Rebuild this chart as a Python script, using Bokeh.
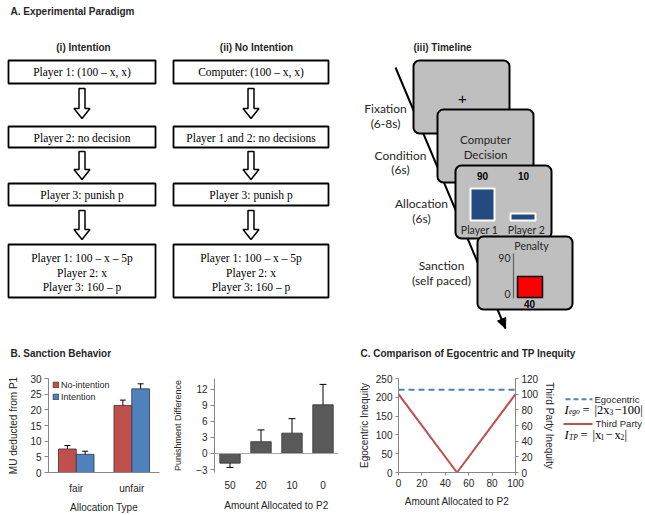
from bokeh.plotting import figure
from bokeh.models import Range1d, FactorRange, ColumnDataSource, Whisker, Span, LinearAxis, TeeHead
from bokeh.layouts import column, row
from bokeh.transform import dodge
from bokeh.core.properties import value
from bokeh.embed import file_html
from bokeh.resources import INLINE
import math

# ---------------- data ----------------
alloc_types = ["fair", "unfair"]
no_intention = [7.5, 21.4]
no_intention_lo = [6.4, 19.7]
no_intention_hi = [8.6, 23.1]
intention = [5.8, 26.7]
intention_lo = [4.8, 25.0]
intention_hi = [6.8, 28.3]

p2_amounts = ["50", "20", "10", "0"]
punish_diff = [-1.8, 2.2, 3.8, 9.1]
punish_lo = [-2.6, 0.0, 1.3, 5.2]
punish_hi = [-0.9, 4.4, 6.5, 12.9]

tp_x = [0, 50, 100]
third_party = [100, 0, 100]
ego_x = [0, 100]
egocentric = [220, 220]

SANS = "Liberation Sans"
SERIF = "Liberation Serif"
CAL = "Lato"
TXT = "#262626"

TOP_H = 370
ROW_H = 145
BT, BB = 8, 42   # common top / bottom borders of the chart row

# ---------------- panel A (diagram, page pixel coordinates) ----------------
pa = figure(width=645, height=TOP_H, x_range=Range1d(0, 645), y_range=Range1d(TOP_H, 0),
            output_backend="svg", toolbar_location=None, x_axis_type=None, y_axis_type=None,
            min_border=0)
pa.outline_line_color = None
pa.grid.visible = False

# headings
pa.text(x=[10, 10, 360], y=[11, 353, 353],
        text=["A. Experimental Paradigm", "B. Sanction Behavior", "C. Comparison of Egocentric and TP Inequity"],
        text_font=value(SANS), text_font_style="bold", text_font_size="10px",
        text_align="left", text_baseline="middle", text_color=TXT)
pa.text(x=[83, 256], y=[47, 47], text=["(i) Intention", "(ii) No Intention"],
        text_font=value(SANS), text_font_style="bold", text_font_size="10px",
        text_align="center", text_baseline="middle", text_color=TXT)
pa.text(x=[413], y=[47], text=["(iii) Timeline"],
        text_font=value(SANS), text_font_style="bold", text_font_size="10px",
        text_align="left", text_baseline="middle", text_color=TXT)

# flow boxes
col_left = [8, 173]
col_right = [155, 328]
col_center = [81.5, 250.5]
row_top = [60, 126, 183, 244]
row_bottom = [83, 147, 205, 297]
bl, br, bt, bb = [], [], [], []
for c in range(2):
    for r in range(4):
        bl.append(col_left[c]); br.append(col_right[c]); bt.append(row_top[r]); bb.append(row_bottom[r])
pa.quad(left=bl, right=br, top=bt, bottom=bb, fill_color="white", line_color="black", line_width=1.8)

box_texts = [
    ["Player 1: (100 – x, x)", "Player 2: no decision", "Player 3: punish p",
     "Player 1: 100 – x – 5p", "Player 2: x", "Player 3: 160 – p"],
    ["Computer: (100 – x, x)", "Player 1 and 2: no decisions", "Player 3: punish p",
     "Player 1: 100 – x – 5p", "Player 2: x", "Player 3: 160 – p"],
]
box_text_y = [71.5, 137, 194, 257, 272, 286]
tx, ty, tt = [], [], []
for c in range(2):
    for i, s in enumerate(box_texts[c]):
        tx.append(col_center[c]); ty.append(box_text_y[i]); tt.append(s)
pa.text(x=tx, y=ty, text=tt, text_font=value(SERIF), text_font_size="11.5px",
        text_align="center", text_baseline="middle", text_color="black")

# hollow arrows
arrow_spans = [(88, 118), (151, 179), (210, 239)]
axs, ays = [], []
for c in range(2):
    cx = col_center[c]
    for (y0, y1) in arrow_spans:
        yh = y1 - 10
        axs.append([cx - 3, cx + 3, cx + 3, cx + 8, cx, cx - 8, cx - 3])
        ays.append([y0, y0, yh, yh, y1, yh, yh])
pa.patches(xs=axs, ys=ays, fill_color="white", line_color="black", line_width=1.5)

# timeline line with arrow head
lx0, ly0, lx1, ly1 = 395, 67, 505, 328
pa.line([lx0, lx1], [ly0, ly1], line_color="black", line_width=2)
d = math.hypot(lx1 - lx0, ly1 - ly0)
ux, uy = (lx1 - lx0) / d, (ly1 - ly0) / d
bx, by = lx1 - 10 * ux, ly1 - 10 * uy
pa.patch([lx1, bx + 4.5 * uy, bx - 4.5 * uy], [ly1, by - 4.5 * ux, by + 4.5 * ux],
         fill_color="black", line_color="black")

# timeline labels
tl_text = ["Fixation", "(6-8s)", "Condition", "(6s)", "Allocation", "(6s)", "Sanction", "(self paced)"]
tl_x = [385, 385, 400, 400, 421, 421, 441, 441]
tl_y = [108, 123, 155, 169, 203, 218, 265, 280]
pa.text(x=tl_x, y=tl_y, text=tl_text, text_font=value(CAL), text_font_size="12px",
        text_align="center", text_baseline="middle", text_color=TXT)

screens = [(413, 509, 60, 133), (437, 533, 109, 182), (455, 551, 165, 238), (477, 572, 236, 309)]

def screen(i):
    l, r, t, b = screens[i]
    pa.quad(left=[l], right=[r], top=[t], bottom=[b], fill_color="#BFBFBF",
            line_color="black", line_width=2, border_radius=6)

screen(0)
pa.text(x=[462], y=[98], text=["+"], text_font=value(SANS), text_font_size="15px",
        text_align="center", text_baseline="middle", text_color="black")
screen(1)
pa.text(x=[485, 485], y=[139, 154], text=["Computer", "Decision"], text_font=value(CAL),
        text_font_size="11.5px", text_align="center", text_baseline="middle", text_color=TXT)
screen(2)
pa.text(x=[482, 523], y=[175, 175], text=["90", "10"], text_font=value(SANS), text_font_style="bold",
        text_font_size="10px", text_align="center", text_baseline="middle", text_color="black")
pa.quad(left=[470, 510], right=[494, 535], top=[188, 213], bottom=[220, 220],
        fill_color="#254A80", line_color="white", line_width=2)
pa.text(x=[479, 526], y=[229, 229], text=["Player 1", "Player 2"], text_font=value(CAL),
        text_font_size="10.5px", text_align="center", text_baseline="middle", text_color=TXT)
screen(3)
pa.text(x=[531], y=[245], text=["Penalty"], text_font=value(CAL), text_font_size="10.5px",
        text_align="center", text_baseline="middle", text_color=TXT)
pa.line([513, 513], [253, 298], line_color="#606060", line_width=1.2)
pa.text(x=[510, 510], y=[257, 293], text=["90", "0"], text_font=value(CAL), text_font_size="10.5px",
        text_align="right", text_baseline="middle", text_color=TXT)
pa.quad(left=[517], right=[542], top=[276], bottom=[297], fill_color="#FF0000",
        line_color="black", line_width=1.5)
pa.text(x=[529], y=[303.5], text=["40"], text_font=value(SANS), text_font_style="bold",
        text_font_size="10px", text_align="center", text_baseline="middle", text_color="black")


# ---------------- helpers ----------------
def style_axis(ax, size="10px", lab="10px"):
    ax.axis_line_color = "#868686"
    ax.major_tick_line_color = "#868686"
    ax.minor_tick_line_color = None
    ax.major_tick_in = 0
    ax.major_tick_out = 4
    ax.major_label_text_font = SANS
    ax.major_label_text_font_size = size
    ax.major_label_text_color = TXT
    ax.axis_label_text_font = SANS
    ax.axis_label_text_font_size = lab
    ax.axis_label_text_font_style = "normal"
    ax.axis_label_text_color = TXT


def clean(p):
    p.outline_line_color = None
    p.xgrid.grid_line_color = None
    p.ygrid.grid_line_color = None


# ---------------- panel B1 ----------------
src1 = ColumnDataSource(dict(cat=alloc_types, no=no_intention, no_lo=no_intention_lo, no_hi=no_intention_hi,
                             it=intention, it_lo=intention_lo, it_hi=intention_hi))
pb1 = figure(width=170, height=ROW_H, x_range=FactorRange(*alloc_types), y_range=Range1d(0, 30),
             output_backend="svg", toolbar_location=None,
             min_border_left=48, min_border_right=11, min_border_top=BT, min_border_bottom=BB)
clean(pb1)
pb1.vbar(x=dodge("cat", -0.16, range=pb1.x_range), top="no", width=0.32, source=src1,
         fill_color="#C0504D", line_color="#4a2a2a", line_width=0.8, legend_label="No-intention")
pb1.vbar(x=dodge("cat", 0.16, range=pb1.x_range), top="it", width=0.32, source=src1,
         fill_color="#4F81BD", line_color="#2a3a4a", line_width=0.8, legend_label="Intention")
for off, lo, hi in [(-0.16, "no_lo", "no_hi"), (0.16, "it_lo", "it_hi")]:
    w = Whisker(base=dodge("cat", off, range=pb1.x_range), lower=lo, upper=hi, source=src1,
                line_color="black", line_width=1,
                upper_head=TeeHead(size=6, line_color="black", line_width=1),
                lower_head=TeeHead(size=6, line_color="black", line_width=1))
    pb1.add_layout(w)
pb1.yaxis.ticker = [0, 5, 10, 15, 20, 25, 30]
pb1.yaxis.axis_label = "MU deducted from P1"
pb1.xaxis.axis_label = "Allocation Type"
style_axis(pb1.yaxis[0])
style_axis(pb1.xaxis[0])
pb1.xaxis.major_tick_line_color = None
pb1.xaxis.major_label_standoff = 6
pb1.xaxis.axis_label_standoff = 5
pb1.yaxis.major_label_standoff = 3
pb1.yaxis.axis_label_standoff = 8
lg = pb1.legend[0]
lg.location = (4, 70)
lg.margin = 0
lg.padding = 2
lg.spacing = 1
lg.glyph_width = 7
lg.glyph_height = 7
lg.label_height = 11
lg.label_standoff = 2
lg.label_text_font = SANS
lg.label_text_font_size = "9px"
lg.label_text_color = TXT
lg.background_fill_alpha = 0
lg.border_line_color = None

# ---------------- panel B2 ----------------
src2 = ColumnDataSource(dict(cat=p2_amounts, v=punish_diff, lo=punish_lo, hi=punish_hi))
pb2 = figure(width=175, height=ROW_H, x_range=FactorRange(*p2_amounts), y_range=Range1d(-3.55, 14),
             output_backend="svg", toolbar_location=None,
             min_border_left=41, min_border_right=7, min_border_top=BT, min_border_bottom=BB)
clean(pb2)
pb2.add_layout(Span(location=0, dimension="width", line_color="#A6A6A6", line_width=1))
pb2.vbar(x="cat", top="v", width=0.66, source=src2, fill_color="#595959", line_color="#333333",
         line_width=0.8)
pb2.add_layout(Whisker(base="cat", lower="lo", upper="hi", source=src2, line_color="black", line_width=1,
                       upper_head=TeeHead(size=7, line_color="black", line_width=1),
                       lower_head=TeeHead(size=7, line_color="black", line_width=1)))
pb2.yaxis.ticker = [-3, 0, 3, 6, 9, 12]
pb2.yaxis.axis_label = "Punishment Difference"
pb2.xaxis.axis_label = "Amount Allocated to P2"
style_axis(pb2.yaxis[0], lab="9px")
style_axis(pb2.xaxis[0])
pb2.xaxis.axis_line_color = None
pb2.xaxis.major_tick_line_color = None
pb2.xaxis.major_label_standoff = 4
pb2.xaxis.axis_label_standoff = 8
pb2.yaxis.major_label_standoff = 3
pb2.yaxis.axis_label_standoff = 10

# ---------------- panel C ----------------
pc = figure(width=215, height=ROW_H, x_range=Range1d(0, 100), y_range=Range1d(0, 250),
            output_backend="svg", toolbar_location=None,
            min_border_left=53, min_border_right=45, min_border_top=BT, min_border_bottom=BB)
clean(pc)
pc.extra_y_ranges = {"tp": Range1d(0, 120)}
pc.add_layout(LinearAxis(y_range_name="tp", axis_label="Third Party Inequity"), "right")
pc.line(ego_x, egocentric, line_color="#4F81BD", line_width=2, line_dash="6 4")
pc.line(tp_x, third_party, y_range_name="tp", line_color="#C0504D", line_width=2)
pc.xaxis.ticker = [0, 20, 40, 60, 80, 100]
pc.yaxis[0].ticker = [0, 50, 100, 150, 200, 250]
pc.yaxis[1].ticker = [0, 20, 40, 60, 80, 100, 120]
pc.yaxis[0].axis_label = "Egocentric Inequity"
pc.xaxis.axis_label = "Amount Allocated to P2"
for ax in pc.xaxis + pc.yaxis:
    style_axis(ax)
    ax.major_tick_out = 3
    ax.major_label_standoff = 3
    ax.axis_label_standoff = 3
pc.xaxis.major_label_standoff = 3
pc.xaxis.axis_label_standoff = 6

# ---------------- panel C legend (page pixel coordinates) ----------------
pl = figure(width=85, height=ROW_H, x_range=Range1d(560, 645), y_range=Range1d(TOP_H + ROW_H, TOP_H),
            output_backend="svg", toolbar_location=None, x_axis_type=None, y_axis_type=None,
            min_border=0)
pl.outline_line_color = None
pl.grid.visible = False
pl.line([565, 592], [402, 402], line_color="#4F81BD", line_width=2, line_dash="5 3")
pl.line([563, 592], [440, 440], line_color="#C0504D", line_width=2)
pl.text(x=[594, 595], y=[402, 440], text=["Egocentric", "Third Party"], text_font=value(SANS),
        text_font_size="9.5px", text_align="left", text_baseline="middle", text_color=TXT)
# formulas, built from pieces
big = dict(text_font=value(SERIF), text_font_size="12.5px", text_align="left",
           text_baseline="middle", text_color="black")
small = dict(text_font=value(SERIF), text_font_size="7.5px", text_align="left",
             text_baseline="middle", text_color="black")
pl.text(x=[564, 564], y=[418, 457], text=["I", "I"], text_font_style="italic", **big)
pl.text(x=[568.5, 568.5], y=[421.5, 460.5], text=["ego", "TP"], text_font_style="italic", **small)
pl.text(x=[582, 594, 614], y=[418, 418, 418], text=["=", "|2x", "−100|"], **big)
pl.text(x=[609], y=[421.5], text=["3"], **small)
pl.text(x=[580, 592, 605, 614, 624], y=[457, 457, 457, 457, 457],
        text=["=", "|x", "−", "x", "|"], **big)
pl.text(x=[600, 620], y=[460.5, 460.5], text=["1", "2"], **small)

layout = column(pa, row(pb1, pb2, pc, pl))
open("out.html", "w").write(file_html(layout, INLINE))
